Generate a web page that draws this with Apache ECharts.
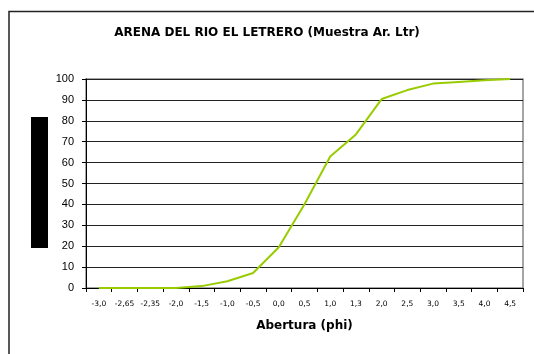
<!DOCTYPE html>
<html>
<head>
<meta charset="utf-8">
<script src="https://cdn.jsdelivr.net/npm/echarts@6/dist/echarts.min.js"></script>
<style>
html,body{margin:0;padding:0;background:#fff;}
#c{width:534px;height:354px;}
</style>
</head>
<body>
<div id="c"></div>
<script>
var categories = ['-3,0','-2,65','-2,35','-2,0','-1,5','-1,0','-0,5','0,0','0,5','1,0','1,3','2,0','2,5','3,0','3,5','4,0','4,5'];
var values = [0, 0, 0, 0, 0.9, 3.2, 7.2, 19.5, 40.1, 62.9, 73.5, 90.4, 94.7, 97.8, 98.6, 99.4, 100];
var yTicks = [0, 10, 20, 30, 40, 50, 60, 70, 80, 90, 100];
var titleText = 'ARENA DEL RIO EL LETRERO (Muestra Ar. Ltr)';
var xName = 'Abertura (phi)';

var chart = echarts.init(document.getElementById('c'), null, {renderer: 'canvas'});
chart.setOption({
  animation: false,
  backgroundColor: '#fff',
  title: {
    text: titleText,
    left: 'center',
    top: 22,
    textStyle: {fontFamily: 'DejaVu Sans', fontSize: 12, fontWeight: 'bold', color: '#000'}
  },
  graphic: [
    {type: 'rect', shape: {x: 9, y: 11.5, width: 700, height: 500}, style: {fill: 'none', stroke: '#222', lineWidth: 1.5}, silent: true},
    {type: 'rect', shape: {x: 31, y: 117, width: 17, height: 131}, style: {fill: '#000'}, silent: true}
  ],
  grid: {left: 86, right: 11, top: 79, bottom: 66, show: true, borderColor: '#888', borderWidth: 1.5, backgroundColor: 'transparent'},
  xAxis: {
    type: 'category',
    data: categories,
    boundaryGap: true,
    name: xName,
    nameLocation: 'middle',
    nameGap: 32,
    nameTextStyle: {fontFamily: 'DejaVu Sans', fontSize: 12, fontWeight: 'bold', color: '#000'},
    axisLine: {lineStyle: {color: '#000', width: 1}},
    axisTick: {show: true, inside: false, length: 4, alignWithLabel: false, lineStyle: {color: '#000'}},
    axisLabel: {fontFamily: 'DejaVu Sans', fontSize: 7.5, color: '#000', margin: 12, interval: 0},
    splitLine: {show: false}
  },
  yAxis: {
    type: 'value',
    min: 0,
    max: 100,
    interval: 10,
    axisLine: {show: true, lineStyle: {color: '#000', width: 1}},
    axisTick: {show: true, length: 4, lineStyle: {color: '#000'}},
    axisLabel: {fontFamily: 'Liberation Sans, Arial', fontSize: 11, color: '#000', margin: 12,
      formatter: function (v) { return yTicks.indexOf(v) >= 0 ? String(v) : ''; }},
    splitLine: {show: true, lineStyle: {color: '#222', width: 1}}
  },
  series: [{
    type: 'line',
    data: values,
    symbol: 'none',
    lineStyle: {color: '#99CC00', width: 2},
    itemStyle: {color: '#99CC00'}
  }]
});
</script>
</body>
</html>
